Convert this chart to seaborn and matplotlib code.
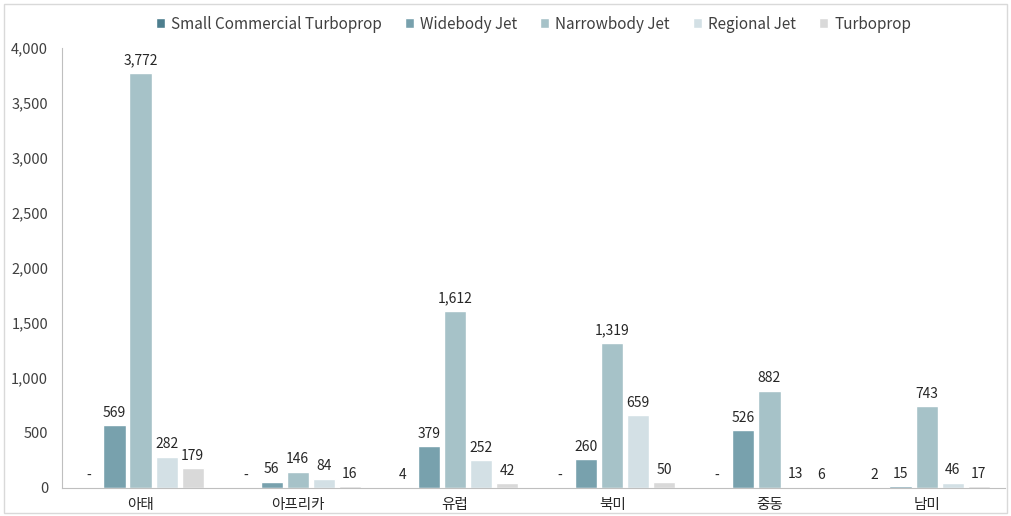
import matplotlib
matplotlib.use("Agg")
import matplotlib.pyplot as plt
import matplotlib.patches as mpatches
import seaborn as sns
import pandas as pd

regions = ['아태', '아프리카', '유럽', '북미', '중동', '남미']
types = ['Small Commercial Turboprop', 'Widebody Jet', 'Narrowbody Jet', 'Regional Jet', 'Turboprop']
small_turboprop = [0, 0, 4, 0, 0, 2]
widebody = [569, 56, 379, 260, 526, 15]
narrowbody = [3772, 146, 1612, 1319, 882, 743]
regional = [282, 84, 252, 659, 13, 46]
turboprop = [179, 16, 42, 50, 6, 17]
colors = ['#4d7e8e', '#78a1ad', '#a6c2c8', '#d3e0e5', '#d9d9d9']

series = [small_turboprop, widebody, narrowbody, regional, turboprop]
rows = []
for t, vals in zip(types, series):
    for r, v in zip(regions, vals):
        rows.append({'region': r, 'type': t, 'value': v})
df = pd.DataFrame(rows)

sns.set_style('white')
plt.rcParams['font.family'] = ['Noto Sans CJK KR', 'DejaVu Sans']

fig = plt.figure(figsize=(10.11, 5.16), dpi=100)
ax = fig.add_axes([0.0613, 0.0543, 0.933, 0.8527])

sns.barplot(data=df, x='region', y='value', hue='type', hue_order=types,
            order=regions, palette=colors, width=0.83, gap=0.15,
            saturation=1, errorbar=None, ax=ax)

# 값 라벨 (0은 "-")
for cont in ax.containers:
    labels = ['-' if b.get_height() == 0 else f'{int(b.get_height()):,}' for b in cont]
    ax.bar_label(cont, labels=labels, padding=4, fontsize=10, color='#262626')

ax.set_ylim(0, 4000)
ax.set_xlim(-0.5, 5.5)
ax.set_yticks(range(0, 4001, 500))
ax.set_yticklabels([f'{v:,}' for v in range(0, 4001, 500)])
ax.set_xlabel('')
ax.set_ylabel('')

ax.set_xticks([i - 0.5 for i in range(7)], minor=True)
ax.tick_params(axis='x', which='major', length=0, pad=7, labelsize=10.5, labelcolor='#262626')
ax.tick_params(axis='x', which='minor', length=5, width=0.8, color='#bfbfbf', direction='out')
ax.tick_params(axis='y', length=5, width=0.8, color='#bfbfbf', direction='out',
               labelsize=10.5, labelcolor='#404040', pad=5)
for s in ['top', 'right']:
    ax.spines[s].set_visible(False)
for s in ['left', 'bottom']:
    ax.spines[s].set_color('#bfbfbf')
    ax.spines[s].set_linewidth(0.8)

ax.legend(loc='upper center', bbox_to_anchor=(0.5, 1.105), ncol=5, frameon=False,
          fontsize=11, handlelength=0.6, handleheight=0.6, handletextpad=0.4,
          columnspacing=1.5, labelcolor='#404040')

fig.patches.append(mpatches.Rectangle((0.004, 0.006), 0.992, 0.986, transform=fig.transFigure,
                                      fill=False, edgecolor='#d9d9d9', linewidth=1))

fig.savefig('out.png', dpi=100)
